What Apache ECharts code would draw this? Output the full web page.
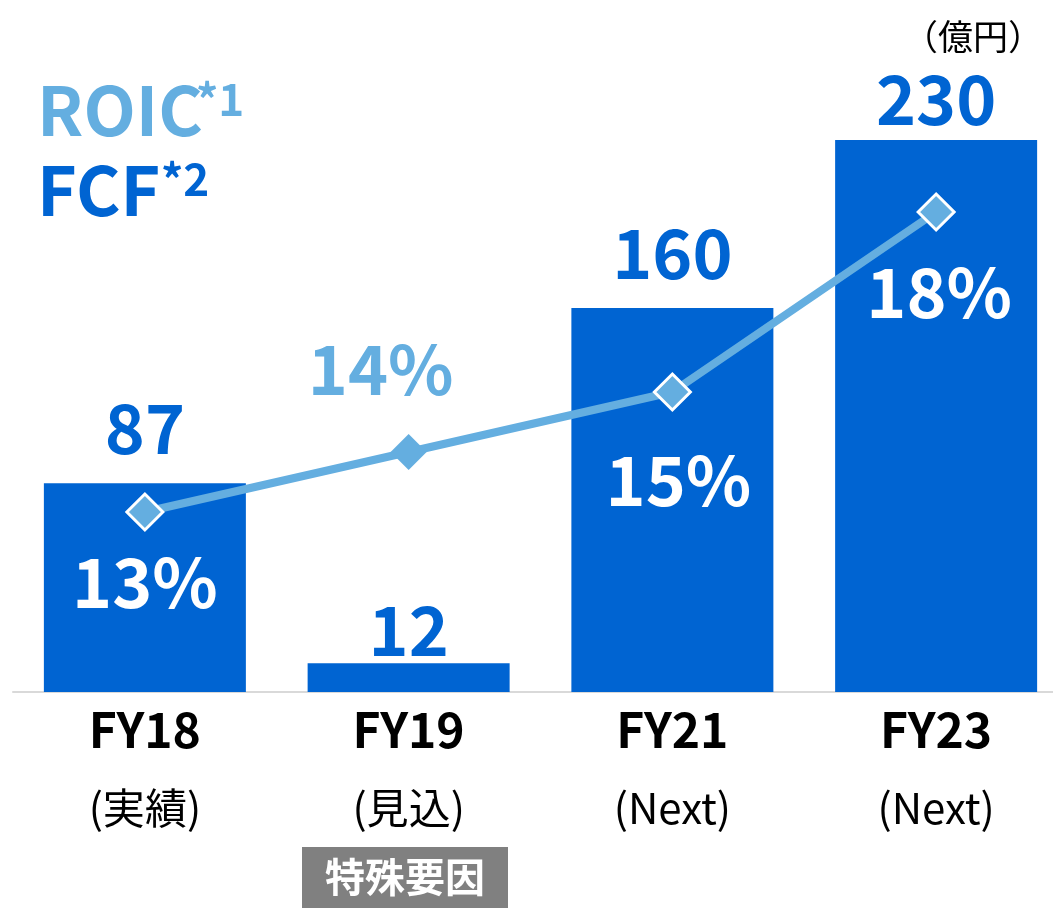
<!DOCTYPE html>
<html><head><meta charset="utf-8">
<script src="https://cdn.jsdelivr.net/npm/echarts@6/dist/echarts.min.js"></script>
<style>html,body{margin:0;padding:0;background:#fff}#c{width:1053px;height:908px}</style>
</head><body><div id="c"></div>
<script>
const categories = ['FY18', 'FY19', 'FY21', 'FY23'];
const subLabels = ['(実績)', '(見込)', '(Next)', '(Next)'];
const fcfValues = [87, 12, 160, 230];
const roicValues = [13, 14, 15, 18];

// styling (not data)
const FONT = "'Noto Sans CJK JP', 'Noto Sans', sans-serif";
const BLUE = '#0064d2';
const LIGHT = '#64aee0';
const barLabelGap = [21, -1, 21, 7];
const roicLabelOffsetX = [0, -28, 6, 3];
const roicLabelOffsetY = [70, -83, 88, 80];
const roicLabelColor = ['#fff', LIGHT, '#fff', '#fff'];
const roicBorder = [3, 0, 3, 3];

const chart = echarts.init(document.getElementById('c'), null, {renderer: 'canvas'});
chart.setOption({
  animation: false,
  backgroundColor: '#fff',
  grid: {left: 13, width: 1055, top: 92, bottom: 216, containLabel: false, outerBoundsMode: 'none'},
  xAxis: {
    type: 'category',
    data: categories,
    axisLine: {show: true, lineStyle: {color: '#d9d9d9', width: 2}},
    axisTick: {show: false},
    axisLabel: {
      interval: 0, margin: 2,
      formatter: (v, i) => `{a|${v}}\n{b|${subLabels[i]}}`,
      rich: {
        a: {fontFamily: FONT, fontSize: 48, fontWeight: 'bold', color: '#000', lineHeight: 72},
        b: {fontFamily: FONT, fontSize: 42, color: '#000', lineHeight: 84}
      }
    }
  },
  yAxis: [
    {type: 'value', min: 0, max: 250, show: false, splitLine: {show: false}},
    {type: 'value', min: 10, max: 20, show: false, splitLine: {show: false}}
  ],
  series: [
    {
      type: 'bar',
      barWidth: 202,
      itemStyle: {color: BLUE},
      label: {show: true, position: 'top', fontFamily: FONT, fontSize: 68, fontWeight: 'bold', color: BLUE},
      data: fcfValues.map((v, i) => ({value: v, label: {distance: barLabelGap[i]}})),
      z: 2
    },
    {
      type: 'line',
      yAxisIndex: 1,
      symbol: 'diamond',
      symbolSize: 36,
      lineStyle: {color: LIGHT, width: 8},
      itemStyle: {color: LIGHT, borderColor: '#fff', borderWidth: 3},
      label: {show: true, position: 'inside', formatter: '{c}%', fontFamily: FONT, fontSize: 68, fontWeight: 'bold'},
      data: roicValues.map((v, i) => ({
        value: v,
        itemStyle: {borderWidth: roicBorder[i]},
        label: {offset: [roicLabelOffsetX[i], roicLabelOffsetY[i]], color: roicLabelColor[i]}
      })),
      z: 5
    }
  ],
  graphic: [
    {type: 'text', x: 37, y: 110, style: {text: 'ROIC', fontFamily: FONT, fontSize: 68, fontWeight: 'bold', fill: LIGHT, align: 'left', verticalAlign: 'middle'}},
    {type: 'text', x: 196, y: 99, style: {text: '*1', fontFamily: FONT, fontSize: 44, fontWeight: 'bold', fill: LIGHT, align: 'left', verticalAlign: 'middle'}},
    {type: 'text', x: 37, y: 190, style: {text: 'FCF', fontFamily: FONT, fontSize: 68, fontWeight: 'bold', fill: BLUE, align: 'left', verticalAlign: 'middle'}},
    {type: 'text', x: 161, y: 179, style: {text: '*2', fontFamily: FONT, fontSize: 44, fontWeight: 'bold', fill: BLUE, align: 'left', verticalAlign: 'middle'}},
    {type: 'text', x: 973, y: 37, style: {text: '（億円）', fontFamily: FONT, fontSize: 35, fill: '#000', align: 'center', verticalAlign: 'middle'}},
    {type: 'rect', shape: {x: 302, y: 847, width: 206, height: 61}, style: {fill: '#808080'}},
    {type: 'text', x: 405, y: 877, style: {text: '特殊要因', fontFamily: FONT, fontSize: 40, fontWeight: 'bold', fill: '#fff', align: 'center', verticalAlign: 'middle'}}
  ]
});
</script>
</body></html>
